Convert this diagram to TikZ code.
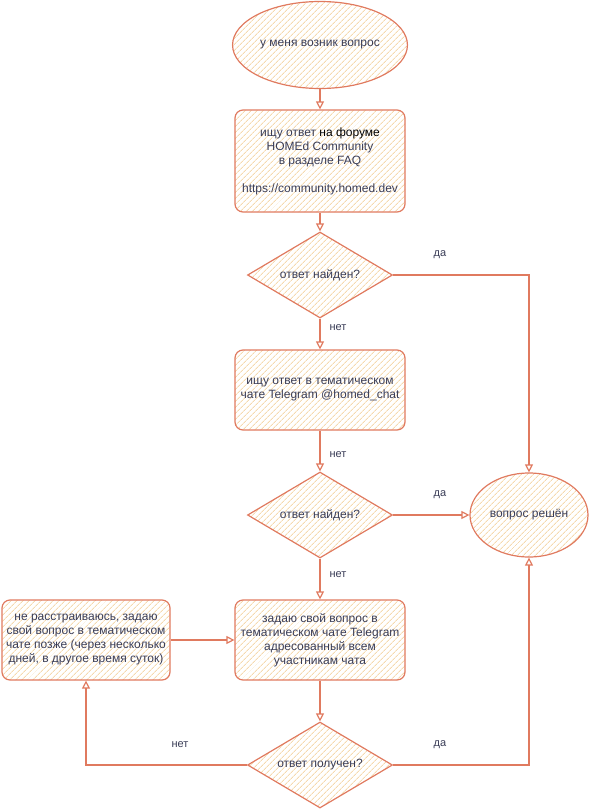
\documentclass[tikz,border=0pt]{standalone}
\usepackage{fontspec}
\setmainfont{Liberation Sans}
\usepackage{xcolor}
\usepackage{tikz}
\usetikzlibrary{shapes,arrows.meta,positioning,patterns.meta}

\definecolor{strokeC}{HTML}{E07A5F}
\definecolor{hatchC}{HTML}{F5D9AE}
\definecolor{textC}{HTML}{393C56}

\begin{document}
\begin{tikzpicture}[
  x=1pt, y=-1pt,
  font=\fontsize{12}{14}\selectfont, text=textC,
  sketch/.style={draw=strokeC, line width=1.2pt, pattern={Lines[angle=45, distance=4pt, line width=1pt]}, pattern color=hatchC, align=center, inner sep=2pt},
  block/.style={sketch, rectangle, rounded corners=8pt, minimum width=170pt, minimum height=80pt},
  decision/.style={sketch, diamond, aspect=1.7, minimum width=145pt, minimum height=86pt, inner sep=0pt},
  terminal/.style={sketch, ellipse, minimum width=170pt, minimum height=87pt},
  lbl/.style={font=\fontsize{11}{13}\selectfont},
  arrow/.style={-{Triangle[open, length=8pt, width=8pt]}, draw=strokeC, line width=1.2pt}
]
  \useasboundingbox (0, 0) rectangle (591, 811);

  % Start
  \node[terminal] (start) at (320, 45) {у меня возник вопрос};

  % Forum
  \node[block, minimum height=102pt] (forum) at (320, 161) {ищу ответ {\color{black}на форуме}\\HOMEd Community\\в разделе FAQ\\[14pt]https://community.homed.dev};
  \node[decision] (found1) at (320, 275) {ответ найден?};

  % Telegram chat
  \node[block] (chat) at (320, 390) {ищу ответ в тематическом\\чате Telegram @homed\_chat};
  \node[decision] (found2) at (320, 515) {ответ найден?};

  % Own question
  \node[block] (ask) at (320, 640) {задаю свой вопрос в\\тематическом чате Telegram\\адресованный всем\\участникам чата};
  \node[block, minimum width=168pt] (retry) at (86, 640) {не расстраиваюсь, задаю\\свой вопрос в тематическом\\чате позже (через несколько\\дней, в другое время суток)};
  \node[decision] (got) at (320, 765) {ответ получен?};

  % End
  \node[sketch, ellipse, minimum width=118pt, minimum height=84pt] (solved) at (529, 515) {вопрос решён};

  % Labels
  \node[lbl] (yes1) at (440, 255) {да};
  \node[lbl] (no1) at (338, 328) {нет};
  \node[lbl] (no2) at (338, 455) {нет};
  \node[lbl] (yes2) at (440, 495) {да};
  \node[lbl] (no3) at (338, 575) {нет};
  \node[lbl] (no4) at (180, 745) {нет};
  \node[lbl] (yes3) at (440, 745) {да};

  % Arrows
  \draw[arrow] (start) -- (forum);
  \draw[arrow] (forum) -- (found1);
  \draw[arrow] (found1.east) -| (solved.north);
  \draw[arrow] (found1) -- (chat);
  \draw[arrow] (chat) -- (found2);
  \draw[arrow] (found2) -- (solved);
  \draw[arrow] (found2) -- (ask);
  \draw[arrow] (ask) -- (got);
  \draw[arrow] (got.west) -| (retry.south);
  \draw[arrow] (got.east) -| (solved.south);
  \draw[arrow] (retry) -- (ask);
\end{tikzpicture}
\end{document}
